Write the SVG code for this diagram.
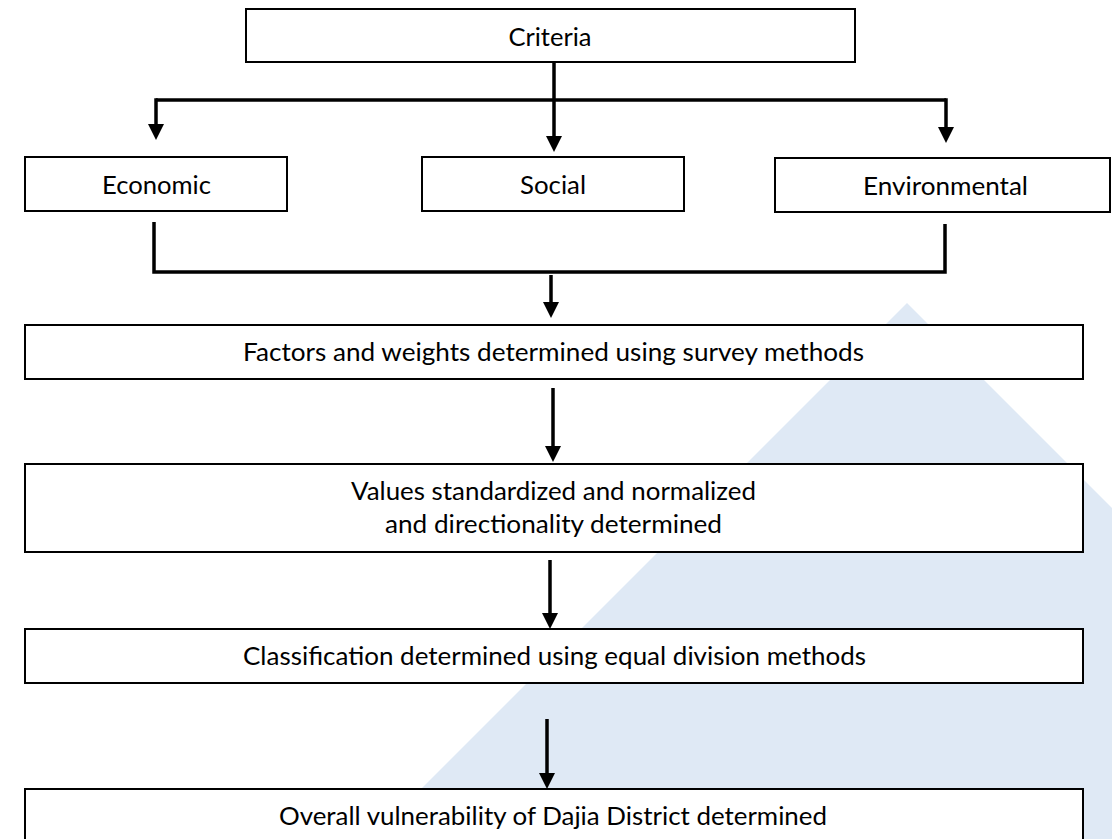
<svg xmlns="http://www.w3.org/2000/svg" width="1112" height="839" viewBox="0 0 1112 839">
  <defs>
    <marker id="arrow" markerUnits="userSpaceOnUse" markerWidth="16" markerHeight="16" viewBox="0 0 16 16" refX="6" refY="8" orient="auto">
      <path d="M0,0 L16,8 L0,16 Z" fill="#000"/>
    </marker>
    <style>
      .box { fill: #fff; stroke: #000; stroke-width: 2; }
      .lbl { font-family: Lato, "Liberation Sans", sans-serif; font-size: 25px; fill: #000; text-anchor: middle; }
      .wire { fill: none; stroke: #000; stroke-width: 3.5; }
    </style>
  </defs>

  <rect width="1112" height="839" fill="#fff"/>
  <!-- pale backdrop triangle -->
  <polygon points="907,303 1450,846 364,846" fill="#dfe9f5"/>

  <g id="connectors">
    <!-- Criteria fan-out -->
    <line class="wire" x1="554" y1="63" x2="554" y2="142" marker-end="url(#arrow)"/>
    <polyline class="wire" points="156,100 946,100"/>
    <line class="wire" x1="156" y1="98.25" x2="156" y2="130" marker-end="url(#arrow)"/>
    <line class="wire" x1="946" y1="98.25" x2="946" y2="133" marker-end="url(#arrow)"/>
    <!-- merge bracket -->
    <polyline class="wire" points="154,222 154,272 945,272 945,224"/>
    <line class="wire" x1="551" y1="275" x2="551" y2="308" marker-end="url(#arrow)"/>
    <!-- sequential steps -->
    <line class="wire" x1="553" y1="388" x2="553" y2="452" marker-end="url(#arrow)"/>
    <line class="wire" x1="550" y1="560" x2="550" y2="619" marker-end="url(#arrow)"/>
    <line class="wire" x1="547" y1="719" x2="547" y2="779" marker-end="url(#arrow)"/>
  </g>

  <g id="criteria">
    <rect class="box" x="246" y="9" width="609" height="53"/>
    <text class="lbl" x="550" y="46" textLength="83" lengthAdjust="spacingAndGlyphs">Criteria</text>
  </g>

  <g id="economic">
    <rect class="box" x="25" y="157" width="262" height="54"/>
    <text class="lbl" x="156.5" y="194" textLength="109" lengthAdjust="spacingAndGlyphs">Economic</text>
  </g>

  <g id="social">
    <rect class="box" x="422" y="157" width="262" height="54"/>
    <text class="lbl" x="553" y="194" textLength="66" lengthAdjust="spacingAndGlyphs">Social</text>
  </g>

  <g id="environmental">
    <rect class="box" x="775" y="158" width="335" height="54"/>
    <text class="lbl" x="945.5" y="195" textLength="165" lengthAdjust="spacingAndGlyphs">Environmental</text>
  </g>

  <g id="factors">
    <rect class="box" x="25" y="325" width="1058" height="54"/>
    <text class="lbl" x="553.5" y="361" textLength="621" lengthAdjust="spacingAndGlyphs">Factors and weights determined using survey methods</text>
  </g>

  <g id="values">
    <rect class="box" x="25" y="464" width="1058" height="88"/>
    <text class="lbl" x="553.5" y="500" textLength="405" lengthAdjust="spacingAndGlyphs">Values standardized and normalized</text>
    <text class="lbl" x="553.5" y="533" textLength="337" lengthAdjust="spacingAndGlyphs">and directionality determined</text>
  </g>

  <g id="classification">
    <rect class="box" x="25" y="629" width="1058" height="54"/>
    <text class="lbl" x="554.5" y="665" textLength="623" lengthAdjust="spacingAndGlyphs">Classification determined using equal division methods</text>
  </g>

  <g id="overall">
    <rect class="box" x="25" y="789" width="1058" height="70"/>
    <text class="lbl" x="553" y="825" textLength="548" lengthAdjust="spacingAndGlyphs">Overall vulnerability of Dajia District determined</text>
  </g>
</svg>
